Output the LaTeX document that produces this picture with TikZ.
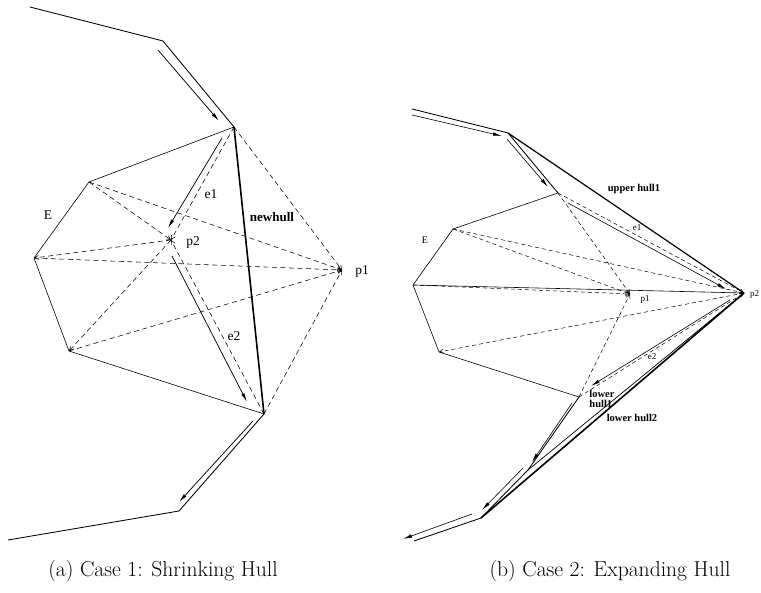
\documentclass[tikz,border=0pt]{standalone}
\usepackage{fontspec}
\newfontfamily\figfont{Liberation Serif}
\usetikzlibrary{arrows.meta}
\begin{document}
\begin{tikzpicture}[x=1pt,y=-1pt,
  edge/.style={line width=0.6pt},
  hull/.style={line width=0.85pt},
  thickhull/.style={line width=1.6pt},
  vis/.style={line width=0.55pt, dash pattern=on 5pt off 3.5pt},
  visb/.style={line width=0.5pt, dash pattern=on 4pt off 3pt},
  tip/.style={-{Straight Barb[length=4pt,width=4pt]}},
  walk/.style={line width=0.75pt, -{Latex[length=9pt,width=3.4pt]}},
  lbl/.style={inner sep=0pt, font=\figfont\fontsize{13.5}{13.5}\selectfont},
  lbls/.style={inner sep=0pt, font=\figfont\fontsize{10}{10}\selectfont},
  lblb/.style={inner sep=0pt, font=\figfont\bfseries\fontsize{10.5}{10.5}\selectfont},
  captext/.style={inner sep=0pt, font=\fontsize{21.6}{24}\selectfont}]
\useasboundingbox (0,0) rectangle (761,593);

% ---------------- (a) shrinking hull ----------------
\coordinate (a0) at (30,7);
\coordinate (a1) at (163,41);
\coordinate (aA) at (234,127);
\coordinate (aB) at (89,182);
\coordinate (aC) at (34,258);
\coordinate (aD) at (69,351);
\coordinate (aF) at (264,414);
\coordinate (a2) at (179,511);
\coordinate (a3) at (8,540);
\coordinate (ap1) at (342,270);
\coordinate (ap2) at (171,240);

% hull chain and polygon E
\draw[hull] (a0) -- (a1) -- (aA);
\draw[hull] (aF) -- (a2) -- (a3);
\draw[edge] (aA) -- (aB) -- (aC) -- (aD) -- (aF);
\draw[thickhull] (aA) -- (aF);

% visibility lines
\foreach \v in {aA,aB,aC,aD,aF} \draw[vis,tip] (\v) -- (ap1);
\foreach \v in {aA,aB,aF} \draw[vis,tip] (\v) -- (ap2);
\draw[vis,tip] (ap2) -- (aC);
\draw[vis,tip] (ap2) -- (aD);

% walking arrows
\coordinate (wa1s) at (158,50);  \coordinate (wa1e) at (219,121);
\coordinate (wa2s) at (253,421); \coordinate (wa2e) at (179,502);
\coordinate (ae1s) at (222,138); \coordinate (ae1e) at (168,228);
\coordinate (ae2s) at (172,256); \coordinate (ae2e) at (247,402);
\draw[walk] (wa1s) -- (wa1e);
\draw[walk] (wa2s) -- (wa2e);
\draw[walk] (ae1s) -- (ae1e);
\draw[walk] (ae2s) -- (ae2e);

\node[lbl] (laE) at (48,215) {E};
\node[lbl] (lae1) at (211,194) {e1};
\node[lbl] (lae2) at (234,336) {e2};
\node[lbl] (lap1) at (362,271) {p1};
\node[lbl] (lap2) at (193,242) {p2};
\node[lbl, font=\figfont\bfseries\fontsize{13}{13}\selectfont] (lanew) at (272,217) {newhull};

% ---------------- (b) expanding hull ----------------
\coordinate (b0) at (412,109);
\coordinate (bH) at (508,133);
\coordinate (bG) at (558,193);
\coordinate (bB) at (453,229);
\coordinate (bC) at (413,285);
\coordinate (bD) at (439,352);
\coordinate (bF) at (579,397);
\coordinate (bW) at (528,470);
\coordinate (bV) at (481,518);
\coordinate (b9) at (414,541);
\coordinate (bp1) at (630,294);
\coordinate (bp2) at (744,293);

\draw[hull] (b0) -- (bH) -- (bG);
\draw[edge] (bG) -- (bB) -- (bC) -- (bD) -- (bF);
\draw[hull] (bF) -- (bW) -- (bV) -- (b9);
\draw[line width=1.2pt] (bH) -- (bp2);
\draw[thickhull] (bp2) -- (bV);
\draw[line width=0.7pt] (bp2) -- (bW);
\draw[edge] (bC) -- (bp2);

\foreach \v in {bG,bB,bC,bF} \draw[visb,tip] (\v) -- (bp1);
\foreach \v in {bG,bB,bF} \draw[visb,tip] (\v) -- (bp2);
\draw[visb,tip] (bp2) -- (bD);

\coordinate (wb1s) at (412,115); \coordinate (wb1e) at (502,136);
\coordinate (wb2s) at (507,139); \coordinate (wb2e) at (548,187);
\coordinate (wb3s) at (572,403); \coordinate (wb3e) at (532,462);
\coordinate (wb4s) at (523,468); \coordinate (wb4e) at (482,510);
\coordinate (wb5s) at (472,514); \coordinate (wb5e) at (403,539);
\coordinate (be1s) at (568,203); \coordinate (be1e) at (726,289);
\coordinate (be2s) at (730,300); \coordinate (be2e) at (591,386);
\foreach \s/\e in {wb1s/wb1e,wb2s/wb2e,wb3s/wb3e,wb4s/wb4e,wb5s/wb5e,be1s/be1e,be2s/be2e}
  \draw[walk, line width=0.6pt] (\s) -- (\e);

\node[lbls] (lbE) at (425,240) {E};
\node[lbls, font=\figfont\fontsize{9}{9}\selectfont] (lbe1) at (637,228) {e1};
\node[lbls, font=\figfont\fontsize{9}{9}\selectfont] (lbe2) at (652,357) {e2};
\node[lbls, font=\figfont\fontsize{9}{9}\selectfont] (lbp1) at (645,299) {p1};
\node[lbls, font=\figfont\fontsize{9}{9}\selectfont, anchor=west] (lbp2) at (750,294) {p2};
\node[lblb] (lbup) at (634,189) {upper hull1};
\node[lblb, align=left] (lblow1) at (602,399) {lower\\[-1pt]hull1};
\node[lblb] (lblow2) at (632,418) {lower hull2};

% ---------------- captions ----------------
\node[captext] (capa) at (163,571) {(a) Case 1: Shrinking Hull};
\node[captext] (capb) at (610,571) {(b) Case 2: Expanding Hull};
\end{tikzpicture}
\end{document}
